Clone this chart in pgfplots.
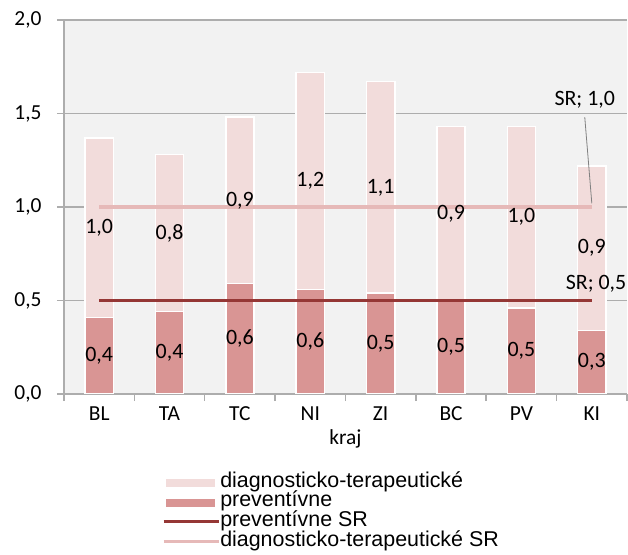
\documentclass[border=0pt]{standalone}
\usepackage{fontspec}
\setmainfont{Carlito}
\newfontfamily\arialfont{Liberation Sans}
\usepackage{pgfplots}
\pgfplotsset{compat=1.18}
\usepackage{pgfplotstable}
\definecolor{diagc}{HTML}{F2DCDB}
\definecolor{prevc}{HTML}{D99594}
\definecolor{prevsr}{HTML}{953735}
\definecolor{diagsr}{HTML}{E6B9B8}
\definecolor{gridc}{HTML}{ADADAD}
\definecolor{bgc}{HTML}{F2F2F2}

\pgfplotstableread{
x prev diag prevsr diagsr
0 0.41 0.96 0.5 1.0
1 0.44 0.84 0.5 1.0
2 0.59 0.89 0.5 1.0
3 0.56 1.16 0.5 1.0
4 0.54 1.13 0.5 1.0
5 0.50 0.93 0.5 1.0
6 0.46 0.97 0.5 1.0
7 0.34 0.88 0.5 1.0
}\bars

\pgfplotstableread{
x y label
0 0.205 0,4
1 0.220 0,4
2 0.295 0,6
3 0.280 0,6
4 0.270 0,5
5 0.250 0,5
6 0.230 0,5
7 0.170 0,3
}\prevlabels

\pgfplotstableread{
x y label
0 0.890 1,0
1 0.860 0,8
2 1.035 0,9
3 1.140 1,2
4 1.105 1,1
5 0.965 0,9
6 0.945 1,0
7 0.780 0,9
}\diaglabels

\begin{document}
\begin{tikzpicture}
\begin{axis}[
  at={(64bp,161bp)}, anchor=south west,
  scale only axis, width=563bp, height=374bp,
  xmin=-0.5, xmax=7.5, ymin=0, ymax=2,
  ybar stacked, bar width=0.4,
  axis background/.style={fill=bgc},
  axis lines*=left,
  axis line style={-, gridc, line width=1.5bp},
  ymajorgrids,
  major grid style={gridc, line width=1.5bp},
  tick align=outside,
  tick style={gridc, line width=1.5bp},
  major tick length=7bp,
  minor tick length=7bp,
  ytick={0,0.5,1,1.5,2},
  xtick={0,...,7},
  xticklabels={BL,TA,TC,NI,ZI,BC,PV,KI},
  minor xtick={-0.5,0.5,...,7.5},
  major x tick style={draw=none},
  /pgf/number format/assume math mode=true,
  tick label style={font=\fontsize{21.5}{24}\selectfont, black},
  y tick label style={xshift=-12bp, /pgf/number format/.cd, fixed, fixed zerofill, precision=1, use comma},
  xticklabel style={yshift=-2bp},
  xlabel={kraj},
  xlabel style={font=\fontsize{21.5}{24}\selectfont, yshift=-2bp},
  legend style={at={(0.174,-0.2113)}, anchor=north west, draw=none, fill=none,
    font=\arialfont\fontsize{21.5}{19}\selectfont, inner sep=0pt, row sep=0.5bp,
    nodes={inner sep=0.1bp, text height=14bp, text depth=4.9bp}},
  legend cell align=left,
]
\addplot[forget plot, fill=prevc, draw=white, line width=1.5bp] table[x=x, y=prev] {\bars};
\addplot[forget plot, fill=diagc, draw=white, line width=1.5bp] table[x=x, y=diag] {\bars};

\addlegendimage{legend image code/.code={\fill[diagc] (3bp,-3.5bp) rectangle (51bp,3.5bp);}}
\addlegendentry{diagnosticko-terapeutické}
\addlegendimage{legend image code/.code={\fill[prevc] (3bp,-3.5bp) rectangle (51bp,3.5bp);}}
\addlegendentry{preventívne}
\addlegendimage{legend image code/.code={\draw[prevsr, line width=3bp] (0bp,0bp) -- (55bp,0bp);}}
\addlegendentry{preventívne SR}
\addlegendimage{legend image code/.code={\draw[diagsr, line width=3bp] (0bp,0bp) -- (55bp,0bp);}}
\addlegendentry{diagnosticko-terapeutické SR}
\end{axis}
\begin{axis}[
  at={(64bp,161bp)}, anchor=south west,
  scale only axis, width=563bp, height=374bp,
  xmin=-0.5, xmax=7.5, ymin=0, ymax=2,
  hide axis, clip=false,
]
\addplot[no markers, prevsr, line width=3.2bp] table[x=x, y=prevsr] {\bars};
\addplot[no markers, diagsr, line width=3.2bp] table[x=x, y=diagsr] {\bars};
\addplot[draw=none, no markers,
  nodes near coords, point meta=explicit symbolic,
  every node near coord/.append style={anchor=center, font=\fontsize{22}{24}\selectfont, black}]
  table[x=x, y=y, meta=label] {\prevlabels};
\addplot[draw=none, no markers,
  nodes near coords, point meta=explicit symbolic,
  every node near coord/.append style={anchor=center, font=\fontsize{22}{24}\selectfont, black}]
  table[x=x, y=y, meta=label] {\diaglabels};
\draw[gray, line width=0.8bp] (axis cs:6.9,1.48) -- (axis cs:7.0,1.02);
\node[font=\fontsize{22}{24}\selectfont, anchor=center] at (axis cs:6.9,1.572) {SR; 1,0};
\node[font=\fontsize{22}{24}\selectfont, anchor=center] at (axis cs:7.06,0.588) {SR; 0,5};
\end{axis}
\pgfresetboundingbox
\useasboundingbox (0,0) rectangle (628bp,555bp);
\end{tikzpicture}
\end{document}
